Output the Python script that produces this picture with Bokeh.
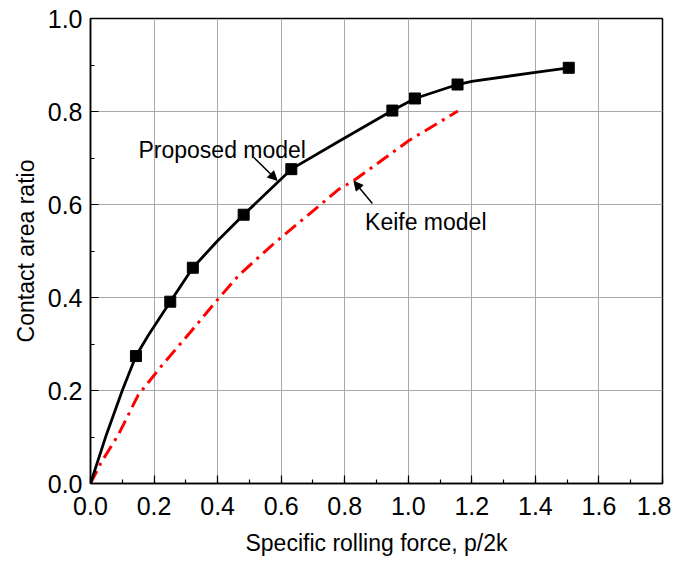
from bokeh.plotting import figure
from bokeh.embed import file_html
from bokeh.resources import INLINE
from bokeh.models import (SingleIntervalTicker, PrintfTickFormatter, Arrow,
                          NormalHead, Label)

# ---- data ----
prop_mark_x = [0.143, 0.251, 0.322, 0.482, 0.632, 0.950, 1.021, 1.155, 1.505]
prop_mark_y = [0.274, 0.391, 0.464, 0.578, 0.676, 0.802, 0.828, 0.858, 0.894]

prop_line_x = [0, 0.05, 0.10, 0.143, 0.183, 0.251, 0.322, 0.40, 0.482, 0.632,
               0.782, 0.95, 1.021, 1.155, 1.20, 1.40, 1.505]
prop_line_y = [0, 0.105, 0.200, 0.274, 0.320, 0.391, 0.464, 0.522, 0.578, 0.676,
               0.736, 0.802, 0.828, 0.858, 0.865, 0.884, 0.894]

keife_x = [0, 0.035, 0.087, 0.15, 0.225, 0.32, 0.398, 0.467, 0.577, 0.782,
           0.83, 1.003, 1.156]
keife_y = [0, 0.047, 0.104, 0.19, 0.254, 0.33, 0.394, 0.448, 0.516, 0.633,
           0.652, 0.738, 0.801]

x_label = "Specific rolling force, p/2k"
y_label = "Contact area ratio"
prop_name = "Proposed model"
keife_name = "Keife model"

FONT = "Liberation Sans"

p = figure(width=671, height=558, x_range=(0, 1.8), y_range=(0, 1.0),
           output_backend="svg", toolbar_location=None,
           min_border_left=90, min_border_top=18, min_border_right=9,
           min_border_bottom=40)

p.background_fill_color = "white"
p.border_fill_color = "white"
p.outline_line_color = "black"
p.outline_line_width = 1.5

for ax in (p.xaxis, p.yaxis):
    ax.ticker = SingleIntervalTicker(interval=0.2, num_minor_ticks=2)
    ax.formatter = PrintfTickFormatter(format="%.1f")
    ax.major_tick_in = 8
    ax.major_tick_out = 0
    ax.minor_tick_in = 4
    ax.minor_tick_out = 0
    ax.major_tick_line_color = "black"
    ax.minor_tick_line_color = "black"
    ax.major_tick_line_width = 1.2
    ax.minor_tick_line_width = 1.2
    ax.axis_line_color = "black"
    ax.axis_line_width = 1.5
    ax.major_label_text_font = FONT
    ax.major_label_text_font_size = "25px"
    ax.major_label_text_color = "black"
    ax.axis_label_text_font = FONT
    ax.axis_label_text_font_size = "23px"
    ax.axis_label_text_font_style = "normal"
    ax.axis_label_text_color = "black"

p.xaxis.axis_label = x_label
p.yaxis.axis_label = y_label
p.xaxis.major_label_standoff = 13
p.yaxis.major_label_standoff = 8
p.xaxis.axis_label_standoff = 12
p.yaxis.axis_label_standoff = 6

p.xgrid.ticker = SingleIntervalTicker(interval=0.2)
p.ygrid.ticker = SingleIntervalTicker(interval=0.2)
p.xgrid.grid_line_color = "#a8a8a8"
p.ygrid.grid_line_color = "#a8a8a8"
p.xgrid.grid_line_width = 1
p.ygrid.grid_line_width = 1

# Keife model (red dash-dot)
p.line(keife_x, keife_y, line_color="#ff0000", line_width=3,
       line_dash="14 6 3 6")

# Proposed model (black line + squares)
p.line(prop_line_x, prop_line_y, line_color="black", line_width=2.8,
       line_join="round")
p.scatter(prop_mark_x, prop_mark_y, marker="square", size=11,
          fill_color="black", line_color="black")

# annotations
p.add_layout(Label(x=0.151, y=0.718, text=prop_name, text_font=FONT,
                   text_font_size="23px", text_color="black",
                   text_baseline="alphabetic", text_align="left"))
p.add_layout(Label(x=0.864, y=0.563, text=keife_name, text_font=FONT,
                   text_font_size="23px", text_color="black",
                   text_baseline="alphabetic", text_align="left"))

p.add_layout(Arrow(x_start=0.514, y_start=0.701, x_end=0.587, y_end=0.652,
                   line_color="black", line_width=1.5,
                   end=NormalHead(size=9, fill_color="black",
                                  line_color="black")))
p.add_layout(Arrow(x_start=0.887, y_start=0.602, x_end=0.829, y_end=0.650,
                   line_color="black", line_width=1.5,
                   end=NormalHead(size=9, fill_color="black",
                                  line_color="black")))

open("out.html", "w").write(file_html(p, INLINE))
